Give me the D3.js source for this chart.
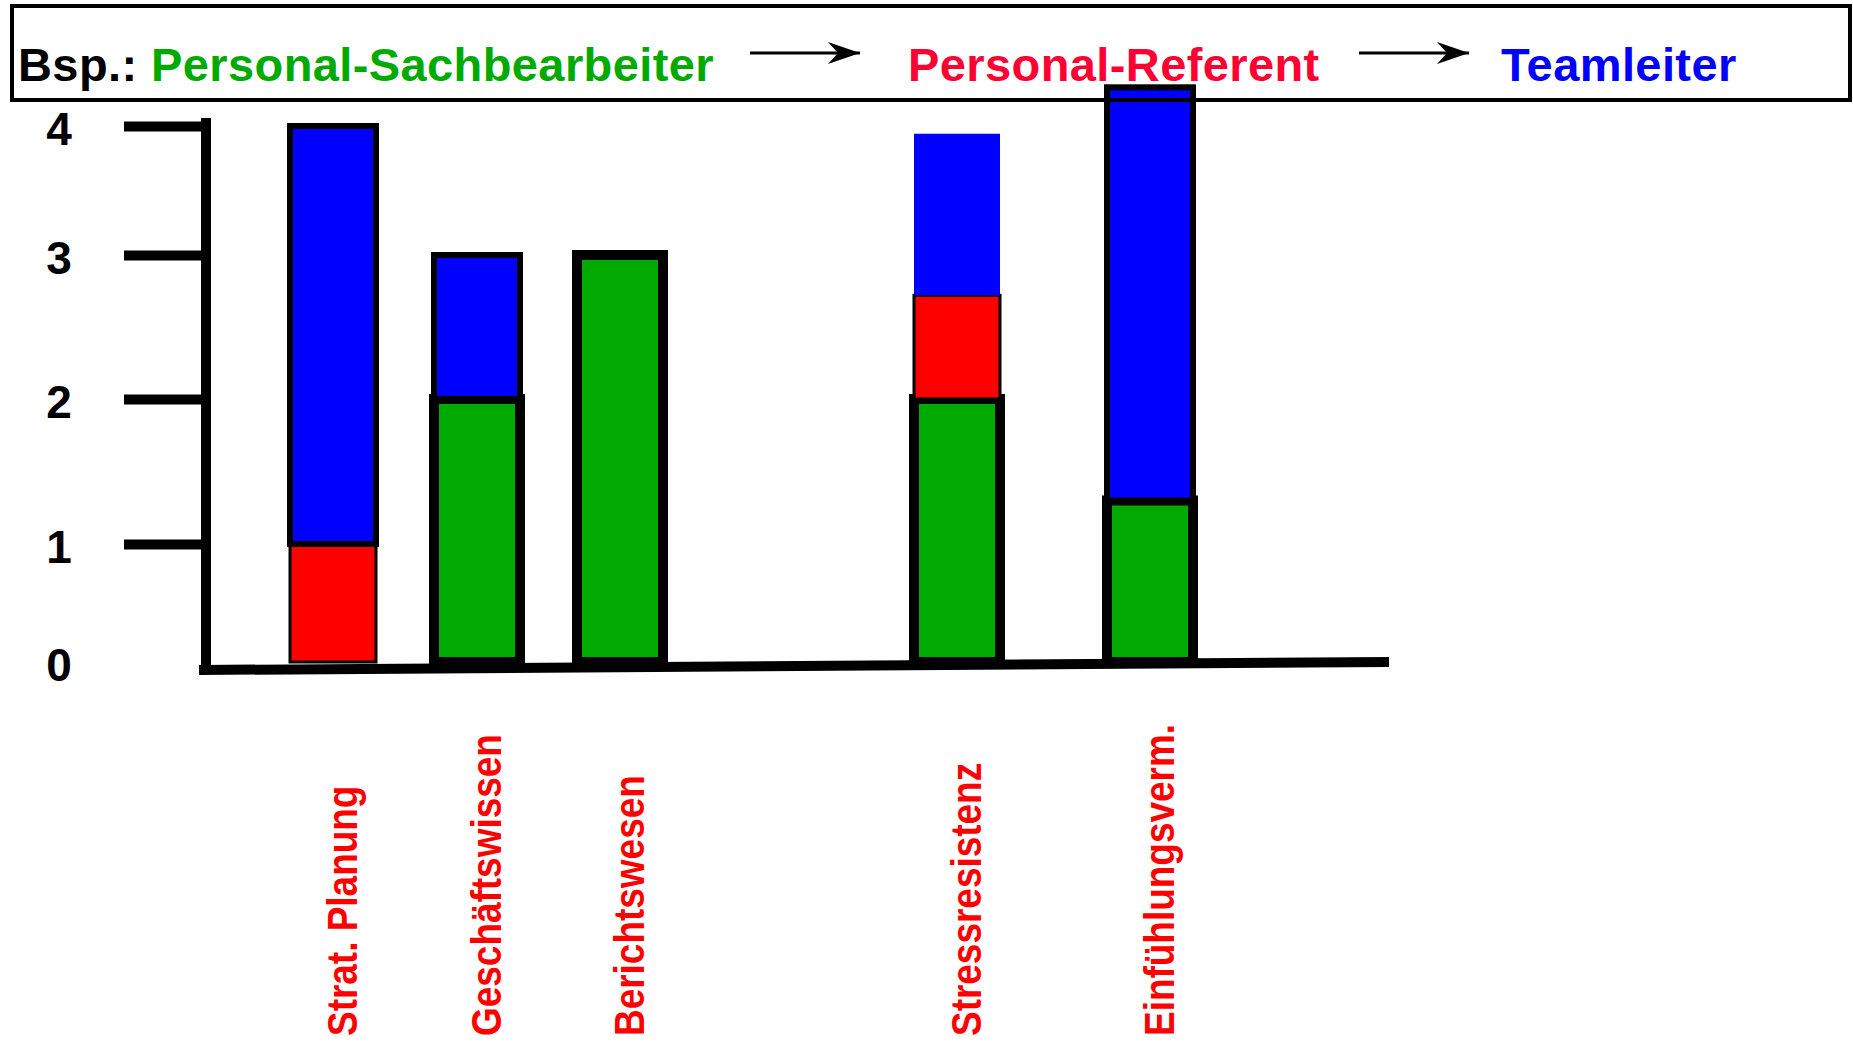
<!DOCTYPE html>
<html>
<head>
<meta charset="utf-8">
<script src="https://cdn.jsdelivr.net/npm/d3@7"></script>
<style>
  body { margin: 0; background: #fff; }
  svg { display: block; }
  text { font-family: "Liberation Sans", Arial, sans-serif; font-weight: bold; }
</style>
</head>
<body>
<svg id="chart" width="1853" height="1051"></svg>
<script>
//==================== data ====================
var categories = ["Strat. Planung", "Geschäftswissen", "Berichtswesen", "Stressresistenz", "Einfühlungsverm."];
var sachbearbeiter = [0, 2, 3, 2, 1.3];    // green
var referent = [1, 0, 0, 0.72, 0];         // red
var teamleiter = [3, 1, 0, 1.22, 3];       // blue
var yTicks = [0, 1, 2, 3, 4];
var titleParts = ["Bsp.:", "Personal-Sachbearbeiter", "Personal-Referent", "Teamleiter"];

//==================== style ====================
var colors = { sach: "#00aa00", ref: "#ff0000", team: "#0000ff" };
var titleColors = ["#000000", "#00aa00", "#ff0033", "#0000ff"];
var strokes = { sach: 10, ref: 3, team: 6 };

var svg = d3.select("#chart");

// hand drawn axis, so the scale is piecewise
var y = d3.scaleLinear().domain(yTicks).range([662, 544, 399, 255, 126]);
var x = d3.scaleOrdinal().domain(categories).range([333, 477, 620, 957, 1150]);
var barW = 86;

var table = categories.map(function(c, i) {
  return { cat: c, sach: sachbearbeiter[i], ref: referent[i], team: teamleiter[i] };
});
var stack = d3.stack().keys(["sach", "ref", "team"])(table);

//==================== bars ====================
var layers = svg.selectAll("g.layer")
  .data(stack)
  .enter()
  .append("g")
  .attr("class", "layer");

layers.selectAll("rect")
  .data(function(d) {
    return d.filter(function(s) { return s[1] - s[0] > 0; })
      .map(function(s) { return { key: d.key, s: s }; });
  })
  .enter()
  .append("rect")
  .attr("x", function(d) { return x(d.s.data.cat) - barW / 2; })
  .attr("y", function(d) { return y(d.s[1]); })
  .attr("width", barW)
  .attr("height", function(d) { return y(d.s[0]) - y(d.s[1]); })
  .style("fill", function(d) { return colors[d.key]; })
  .style("stroke", "#000")
  .style("stroke-width", function(d) {
    // the Stressresistenz top block has no outline in the original
    if (d.key == "team" && d.s.data.cat == "Stressresistenz") return 0;
    return strokes[d.key];
  });

//==================== axes ====================
var axisX = 206;
var yAxis = d3.axisLeft(y).tickValues(yTicks).tickSize(82).tickFormat(d3.format("d"));
var ga = svg.append("g").attr("transform", "translate(" + axisX + ",0)").call(yAxis);
ga.select(".domain").remove();
ga.selectAll(".tick line")
  .style("stroke", "#000")
  .style("stroke-width", 10)
  .style("display", function(d) { return d == 0 ? "none" : null; });
ga.selectAll(".tick text")
  .attr("x", -147)
  .attr("dy", "0.4em")
  .style("text-anchor", "middle")
  .style("font-size", "46px")
  .style("fill", "#000");

svg.append("line")
  .attr("x1", axisX).attr("x2", axisX)
  .attr("y1", y(4) - 8).attr("y2", y(0) + 8)
  .style("stroke", "#000").style("stroke-width", 10);

// slightly tilted baseline
svg.append("line")
  .attr("x1", axisX - 7).attr("y1", y(0) + 8)
  .attr("x2", 1389).attr("y2", y(0))
  .style("stroke", "#000").style("stroke-width", 10);

//==================== category labels ====================
// condensed bold, written bottom to top
svg.selectAll("text.cat")
  .data(categories)
  .enter()
  .append("text")
  .attr("class", "cat")
  .attr("transform", function(d) { return "translate(" + (x(d) + 24) + ",1036) rotate(-90) scale(0.88,1)"; })
  .style("font-size", "42px")
  .style("fill", "#ff0000")
  .text(function(d) { return d; });

//==================== title box ====================
svg.append("rect")
  .attr("x", 12).attr("y", 6)
  .attr("width", 1838).attr("height", 94)
  .style("fill", "none")
  .style("stroke", "#000")
  .style("stroke-width", 4);

var titleX = [18, 151, 908, 1501];
svg.selectAll("text.title")
  .data(titleParts)
  .enter()
  .append("text")
  .attr("class", "title")
  .attr("x", function(d, i) { return titleX[i]; })
  .attr("y", 81)
  .style("font-size", "47px")
  .style("letter-spacing", "0.4px")
  .style("fill", function(d, i) { return titleColors[i]; })
  .text(function(d) { return d; });

svg.append("defs").append("marker")
  .attr("id", "head")
  .attr("viewBox", "0 0 32 22")
  .attr("refX", 32).attr("refY", 11)
  .attr("markerWidth", 32).attr("markerHeight", 22)
  .attr("markerUnits", "userSpaceOnUse")
  .attr("orient", "auto")
  .append("path")
  .attr("d", "M0,0 L32,11 L0,22 L10,11 Z")
  .style("fill", "#000");

[[750, 860], [1359, 1469]].forEach(function(a) {
  svg.append("line")
    .attr("x1", a[0]).attr("x2", a[1])
    .attr("y1", 53).attr("y2", 53)
    .attr("marker-end", "url(#head)")
    .style("stroke", "#000").style("stroke-width", 3);
});
</script>
</body>
</html>
